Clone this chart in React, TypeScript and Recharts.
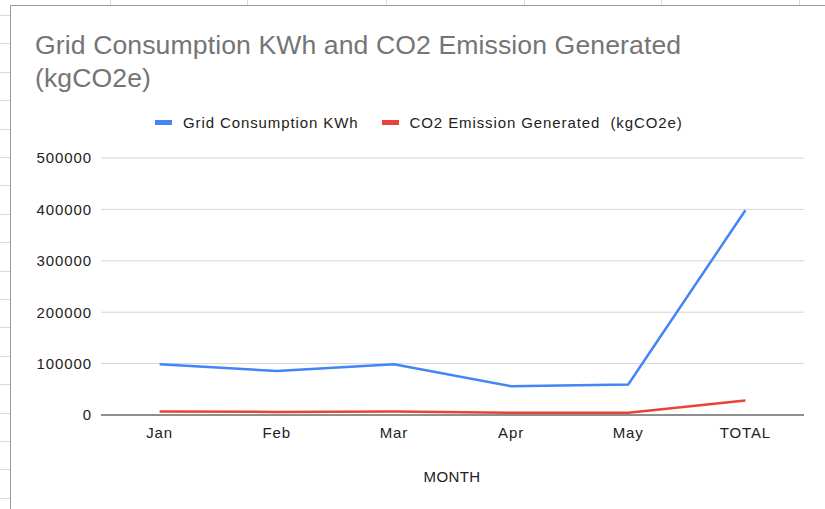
import React from 'react';
import { LineChart, Line, XAxis, YAxis, CartesianGrid, Legend } from 'recharts';

const months = ['Jan', 'Feb', 'Mar', 'Apr', 'May', 'TOTAL'];
const gridKwh = [98700, 85700, 98500, 56100, 59400, 398400];
const co2Kg = [6700, 6000, 6600, 4400, 4500, 28200];
const yTicks = [0, 100000, 200000, 300000, 400000, 500000];

const GRID_NAME = 'Grid Consumption KWh';
const CO2_NAME = 'CO2 Emission Generated  (kgCO2e)';
const seriesOrder = ['grid', 'co2'];

const data = months.map((m, i) => ({ month: m, grid: gridKwh[i], co2: co2Kg[i] }));

const FONT = '"Liberation Sans", Arial, Helvetica, sans-serif';

// spreadsheet cells peeking out behind the chart
const sheetCols = [110, 247, 386, 524, 661, 799];
const sheetRows = Array.from({ length: 18 }, (_, i) => 15 + i * 28.4);

function renderLegend(props: any) {
  const items = [...(props.payload || [])].sort(
    (a: any, b: any) => seriesOrder.indexOf(a.dataKey) - seriesOrder.indexOf(b.dataKey)
  );
  return (
    <div style={{ display: 'flex', alignItems: 'center', fontFamily: FONT, fontSize: 15, letterSpacing: 0.9, color: '#222' }}>
      {items.map((it: any, i: number) => (
        <div key={i} style={{ display: 'flex', alignItems: 'center', marginRight: 23 }}>
          <span style={{ display: 'inline-block', width: 17, height: 5, background: it.color, marginRight: 11 }} />
          <span style={{ whiteSpace: 'pre' }}>{it.value}</span>
        </div>
      ))}
    </div>
  );
}

export default function App() {
  return (
    <div style={{ position: 'absolute', left: 0, top: 0, width: 825, height: 509, overflow: 'hidden', background: '#fff', fontFamily: FONT }}>
      {sheetCols.map((x) => (
        <div key={'c' + x} style={{ position: 'absolute', left: x, top: 0, width: 1, height: 5, background: '#dadada' }} />
      ))}
      {sheetRows.map((y) => (
        <div key={'r' + y} style={{ position: 'absolute', left: 0, top: y, width: 10, height: 1, background: '#dadada' }} />
      ))}
      <div style={{ position: 'absolute', left: 10, top: 5, width: 830, height: 520, borderLeft: '1px solid #9b9b9b', borderTop: '1px solid #9b9b9b', background: '#fff' }} />

      <div style={{ position: 'absolute', left: 35, top: 29, fontSize: 26.6, color: '#757575', lineHeight: '33px', letterSpacing: 0.1 }}>
        Grid Consumption KWh and CO2 Emission Generated
        <br />
        (kgCO2e)
      </div>

      <div style={{ position: 'absolute', left: 0, top: 0 }}>
        <LineChart width={825} height={509} data={data} margin={{ top: 158, right: 21, bottom: 54, left: 0 }}>
          <CartesianGrid vertical={false} stroke="#d6d6d6" />
          <XAxis
            dataKey="month"
            height={40}
            padding={{ left: 58.6, right: 58.6 }}
            stroke="#333"
            tickLine={false}
            tickSize={0}
            tickMargin={12}
            tick={{ fill: '#222', fontSize: 15, fontFamily: FONT, style: { letterSpacing: 0.9 } }}
          />
          <YAxis
            width={101}
            domain={[0, 500000]}
            ticks={yTicks}
            axisLine={false}
            tickLine={false}
            tickSize={0}
            tickMargin={9}
            tick={{ fill: '#222', fontSize: 15, fontFamily: FONT, style: { letterSpacing: 0.9 } }}
          />
          <Legend
            verticalAlign="middle"
            layout="horizontal"
            content={renderLegend}
            wrapperStyle={{ position: 'absolute', left: 155, top: 114, width: 620, height: 22 }}
          />
          <Line type="linear" dataKey="grid" name={GRID_NAME} stroke="#4285f4" strokeWidth={2.5} dot={false} isAnimationActive={false} />
          <Line type="linear" dataKey="co2" name={CO2_NAME} stroke="#ea4335" strokeWidth={2.5} dot={false} isAnimationActive={false} />
        </LineChart>
      </div>

      <div style={{ position: 'absolute', left: 352, width: 200, top: 468, textAlign: 'center', fontSize: 15, letterSpacing: 0.4, color: '#222' }}>
        MONTH
      </div>
    </div>
  );
}
